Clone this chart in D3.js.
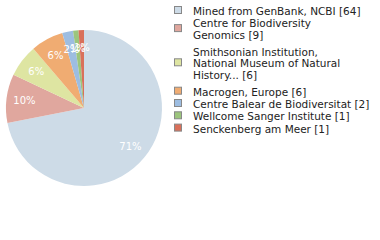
<!DOCTYPE html>
<html>
<head>
<meta charset="utf-8">
<script src="https://cdn.jsdelivr.net/npm/d3@7"></script>
<style>
  html, body { margin: 0; padding: 0; background: #fff; }
  svg { display: block; }
</style>
</head>
<body>
<div id="chart"></div>
<script>
// Datenquellen und Anzahl Datensätze
const labels = [
  'Mined from GenBank, NCBI',
  'Centre for Biodiversity Genomics',
  'Smithsonian Institution, National Museum of Natural History...',
  'Macrogen, Europe',
  'Centre Balear de Biodiversitat',
  'Wellcome Sanger Institute',
  'Senckenberg am Meer'
];
const counts = [64, 9, 6, 6, 2, 1, 1];
// Legendentext, so umbrochen wie im Original
const legendLines = [
  ['Mined from GenBank, NCBI [64]'],
  ['Centre for Biodiversity', 'Genomics [9]'],
  ['Smithsonian Institution,', 'National Museum of Natural', 'History... [6]'],
  ['Macrogen, Europe [6]'],
  ['Centre Balear de Biodiversitat [2]'],
  ['Wellcome Sanger Institute [1]'],
  ['Senckenberg am Meer [1]']
];
const colors = ['#cddbe7', '#e0a79e', '#dee5a2', '#f0ac72', '#9dbde1', '#9cc57d', '#d9705a'];

const width = 380, height = 240;
const cx = 84, cy = 108, r = 78;

const svg = d3.select('#chart').append('svg')
  .attr('width', width)
  .attr('height', height);

const color = d3.scaleOrdinal().domain(labels).range(colors);
const total = d3.sum(counts);
const data = labels.map((l, i) => ({ label: l, value: counts[i] }));

const pie = d3.pie().value(d => d.value).sort(null);
const arcs = pie(data);
const arc = d3.arc().innerRadius(0).outerRadius(r);
const labelArc = d3.arc().innerRadius(r * 0.77).outerRadius(r * 0.77);

const g = svg.append('g').attr('transform', `translate(${cx},${cy})`);

g.selectAll('path')
  .data(arcs)
  .join('path')
  .attr('d', arc)
  .attr('fill', d => color(d.data.label));

// Prozentwerte abgeschnitten (nicht gerundet), wie im Original
g.selectAll('text')
  .data(arcs)
  .join('text')
  .attr('transform', d => `translate(${labelArc.centroid(d)})`)
  .attr('text-anchor', 'middle')
  .attr('dominant-baseline', 'central')
  .attr('font-family', 'DejaVu Sans, sans-serif')
  .attr('font-size', '10px')
  .attr('fill', '#fff')
  .text(d => Math.floor(d.data.value / total * 100) + '%');

// Legende
const lineH = 11.6;
const legend = svg.append('g').attr('font-family', 'DejaVu Sans, sans-serif').attr('font-size', '10.5px');
let y = 11;
legendLines.forEach((lines, i) => {
  const block = (lines.length - 1) * lineH;
  const item = legend.append('g');
  item.append('rect')
    .attr('x', 174.5)
    .attr('y', y + block / 2 - 4.5)
    .attr('width', 7)
    .attr('height', 7)
    .attr('fill', colors[i])
    .attr('stroke', '#888')
    .attr('stroke-width', 1);
  lines.forEach((t, j) => {
    item.append('text')
      .attr('x', 193)
      .attr('y', y + j * lineH)
      .attr('dominant-baseline', 'central')
      .attr('fill', '#222')
      .text(t);
  });
  y += block + (lines.length > 1 ? 16.8 : 12.3);
});
</script>
</body>
</html>
